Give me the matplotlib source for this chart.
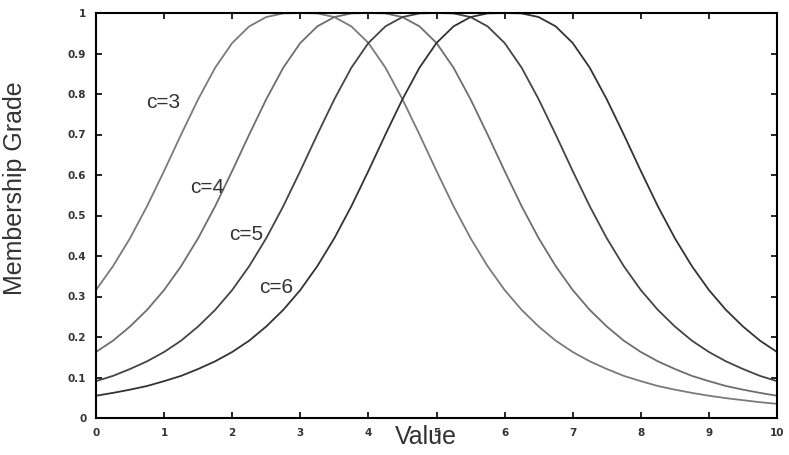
import matplotlib
matplotlib.use("Agg")
import matplotlib.pyplot as plt
import numpy as np

# x positions (Value axis), step 0.25
x_values = [i * 0.25 for i in range(41)]

# Membership grades, one list per curve
c3 = [0.316, 0.375, 0.444, 0.523, 0.610, 0.700, 0.787, 0.865, 0.926, 0.967, 0.990, 0.999, 1.000,
      0.999, 0.990, 0.967, 0.926, 0.865, 0.787, 0.700, 0.610, 0.523, 0.444, 0.375, 0.316, 0.267,
      0.226, 0.191, 0.163, 0.140, 0.121, 0.104, 0.091, 0.079, 0.070, 0.062, 0.055, 0.049, 0.044,
      0.039, 0.035]
c4 = [0.163, 0.191, 0.226, 0.267, 0.316, 0.375, 0.444, 0.523, 0.610, 0.700, 0.787, 0.865, 0.926,
      0.967, 0.990, 0.999, 1.000,
      0.999, 0.990, 0.967, 0.926, 0.865, 0.787, 0.700, 0.610, 0.523, 0.444, 0.375, 0.316, 0.267,
      0.226, 0.191, 0.163, 0.140, 0.121, 0.104, 0.091, 0.079, 0.070, 0.062, 0.055]
c5 = [0.091, 0.104, 0.121, 0.140, 0.163, 0.191, 0.226, 0.267, 0.316, 0.375, 0.444, 0.523, 0.610,
      0.700, 0.787, 0.865, 0.926, 0.967, 0.990, 0.999, 1.000,
      0.999, 0.990, 0.967, 0.926, 0.865, 0.787, 0.700, 0.610, 0.523, 0.444, 0.375, 0.316, 0.267,
      0.226, 0.191, 0.163, 0.140, 0.121, 0.104, 0.091]
c6 = [0.055, 0.062, 0.070, 0.079, 0.091, 0.104, 0.121, 0.140, 0.163, 0.191, 0.226, 0.267, 0.316,
      0.375, 0.444, 0.523, 0.610, 0.700, 0.787, 0.865, 0.926, 0.967, 0.990, 0.999, 1.000,
      0.999, 0.990, 0.967, 0.926, 0.865, 0.787, 0.700, 0.610, 0.523, 0.444, 0.375, 0.316, 0.267,
      0.226, 0.191, 0.163]

series = [c3, c4, c5, c6]
series_labels = ["c=3", "c=4", "c=5", "c=6"]
label_pos = [(0.98, 0.778), (1.63, 0.57), (2.2, 0.452), (2.64, 0.323)]
colors = ["#7a7a7a", "#6e6e6e", "#444444", "#333333"]

x_ticks = list(range(0, 11))
x_ticklabels = [str(v) for v in x_ticks]
y_ticks = [round(0.1 * i, 1) for i in range(11)]
y_ticklabels = ["0", "0.1", "0.2", "0.3", "0.4", "0.5", "0.6", "0.7", "0.8", "0.9", "1"]

W, H = 789, 455
fig = plt.figure(figsize=(W / 100, H / 100), dpi=100)
ax = fig.add_axes([96 / W, 1 - 418 / H, (777 - 96) / W, (418 - 13) / H])

for ys, col in zip(series, colors):
    ax.plot(x_values, ys, color=col, lw=1.3, solid_joinstyle="round")

for lab, (lx, ly) in zip(series_labels, label_pos):
    ax.text(lx, ly, lab, fontsize=15, family="Liberation Sans", color="#333333",
            ha="center", va="center")

ax.set_xlim(0, 10)
ax.set_ylim(0, 1)
ax.set_xticks(x_ticks)
ax.set_xticklabels(x_ticklabels)
ax.set_yticks(y_ticks)
ax.set_yticklabels(y_ticklabels)
ax.tick_params(direction="in", length=4, width=1.2, top=True, right=True,
               labelsize=7.5, pad=7, colors="black")
for lbl in ax.get_xticklabels() + ax.get_yticklabels():
    lbl.set_fontweight("bold")
    lbl.set_color("#333333")
for sp in ax.spines.values():
    sp.set_linewidth(1.5)

fig.text(15 / W, 1 - 188 / H, "Membership Grade", rotation=90, fontsize=18,
         family="Liberation Sans", color="#333333", ha="center", va="center")
fig.text(426 / W, 1 - 437 / H, "Value", fontsize=18, family="Liberation Sans",
         color="#333333", ha="center", va="center")

fig.savefig("out.png", dpi=100)
